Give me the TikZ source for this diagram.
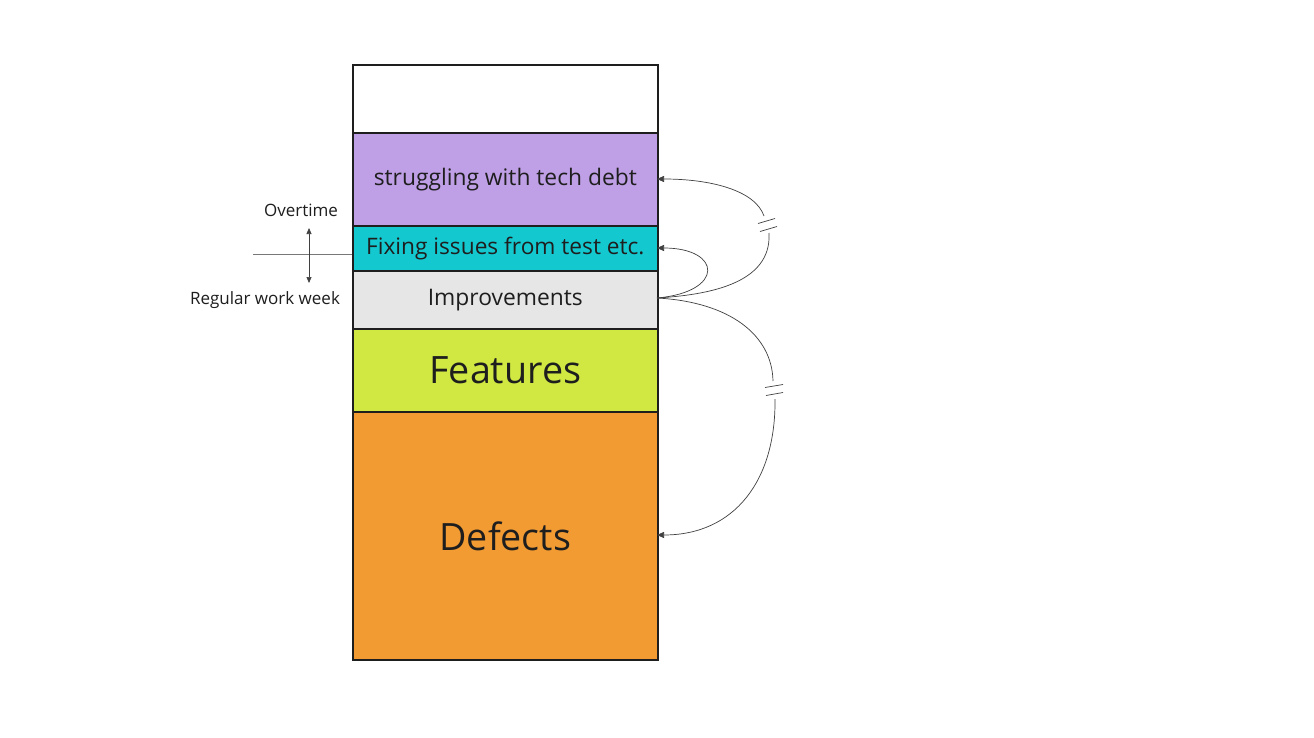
\documentclass[tikz,border=0pt]{standalone}
\usepackage{fontspec}
\setmainfont{Open Sans}
\usetikzlibrary{arrows.meta}
\definecolor{cpurple}{HTML}{BF9FE5}
\definecolor{ccyan}{HTML}{14C8D0}
\definecolor{cgray}{HTML}{E6E6E6}
\definecolor{cgreen}{HTML}{D1E843}
\definecolor{corange}{HTML}{F29B33}
\definecolor{ctext}{HTML}{1E1E1E}
\begin{document}
\begin{tikzpicture}[x=1pt,y=-1pt,
  row/.style={draw=ctext,line width=1.6pt,minimum width=305pt,inner sep=0pt,anchor=north west,text=ctext},
  conn/.style={draw=ctext!85,line width=0.7pt},
  tip/.style={-{Triangle[length=7pt,width=6pt]}},
  lbl/.style={text=ctext,font=\fontsize{17}{19}\selectfont,inner sep=0pt}]
\useasboundingbox (0,0) rectangle (1314,738);
\fill[white] (0,0) rectangle (1314,738);
\node[row,fill=white,minimum height=68pt] (top) at (352,64) {};
\node[row,fill=cpurple,minimum height=93pt,font=\fontsize{22.8}{25}\selectfont] (debt) at (352,132) {struggling with tech debt};
\node[row,fill=ccyan,minimum height=45pt,font=\fontsize{22.7}{25}\selectfont] (fix) at (352,225) {Fixing issues from test etc.};
\node[row,fill=cgray,minimum height=58pt,font=\fontsize{22.8}{25}\selectfont] (impr) at (352,270) {Improvements};
\node[row,fill=cgreen,minimum height=83pt,font=\fontsize{37.7}{40}\selectfont] (feat) at (352,328) {Features};
\node[row,fill=corange,minimum height=248pt,font=\fontsize{37.6}{40}\selectfont] (def) at (352,411) {Defects};
% left labels
\node[lbl] (ot) at (301,210) {Overtime};
\node[lbl] (rw) at (265,300) {Regular work week};
\coordinate (hl) at (253,254);
\draw[draw=ctext!60,line width=0.7pt] (hl) -- (fix.west |- hl);
\coordinate (a1) at (309,228);
\coordinate (a2) at (309,283);
\draw[conn,{Triangle[length=6pt,width=5pt]}-{Triangle[length=6pt,width=5pt]}] (a1) -- (a2);
% connector anchors
\coordinate (src) at (657,298);
\coordinate (tdebt) at (657,179);
\coordinate (tfix) at (657,248);
\coordinate (tdef) at (657,535);
% curve to tech debt
\coordinate (b1a) at (764,216);
\coordinate (b1b) at (769,233);
\draw[conn] (src) .. controls (705,295) and (772,285) .. (b1b);
\draw[conn,tip] (b1a) .. controls (755,190) and (710,179) .. (tdebt);
\draw[conn] (758,223.5) -- (775,218.5);
\draw[conn] (760,231.5) -- (777,226.5);
% loop to fixing issues
\draw[conn,tip] (src) .. controls (725,292) and (722,248) .. (tfix);
% curve to defects
\coordinate (b3a) at (773,381);
\coordinate (b3b) at (775,399);
\draw[conn] (src) .. controls (730,302) and (772,335) .. (b3a);
\draw[conn,tip] (b3b) .. controls (776,480) and (735,535) .. (tdef);
\draw[conn] (765,387.5) -- (783,384.5);
\draw[conn] (766,395.5) -- (783,392.5);
\end{tikzpicture}
\end{document}
